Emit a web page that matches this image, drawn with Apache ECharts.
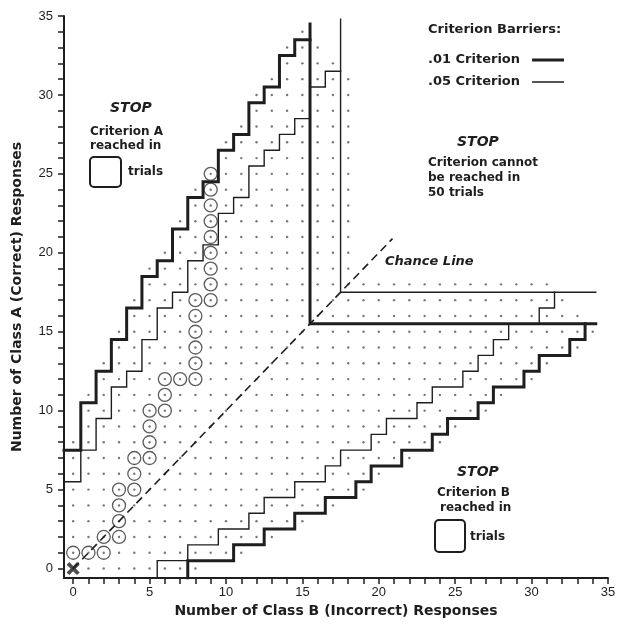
<!DOCTYPE html>
<html>
<head>
<meta charset="utf-8">
<script src="https://cdn.jsdelivr.net/npm/echarts@6/dist/echarts.min.js"></script>
<style>
  html, body { margin: 0; padding: 0; background: #fff; }
  #chart { width: 622px; height: 627px; }
</style>
</head>
<body>
<div id="chart"></div>
<script>
// tick positions and labels
const xTickValues = [0, 1, 2, 3, 4, 5, 6, 7, 8, 9, 10, 11, 12, 13, 14, 15, 16, 17, 18, 19, 20, 21, 22, 23, 24, 25, 26, 27, 28, 29, 30, 31, 32, 33, 34, 35]
const xLabelValues = [0, 5, 10, 15, 20, 25, 30, 35]
const yTickValues = [0, 1, 2, 3, 4, 5, 6, 7, 8, 9, 10, 11, 12, 13, 14, 15, 16, 17, 18, 19, 20, 21, 22, 23, 24, 25, 26, 27, 28, 29, 30, 31, 32, 33, 34, 35]
const yLabelValues = [0, 5, 10, 15, 20, 25, 30, 35]

// criterion A barrier: boundary height for each column 0,1,2,...
const aThickSteps = [7.5, 10.5, 12.5, 14.5, 16.5, 18.5, 19.5, 21.5, 23.5, 24.5, 26.5, 27.5, 29.5, 30.5, 32.5, 33.5]
const aThinSteps = [5.5, 7.5, 9.5, 11.5, 12.5, 14.5, 16.5, 17.5, 19.5, 20.5, 22.5, 23.5, 25.5, 26.5, 27.5, 28.5, 30.5, 31.5]
// criterion B barrier: boundary x for each row 0,1,2,...
const bThickSteps = [7.5, 10.5, 12.5, 14.5, 16.5, 18.5, 19.5, 21.5, 23.5, 24.5, 26.5, 27.5, 29.5, 30.5, 32.5, 33.5]
const bThinSteps = [5.5, 7.5, 9.5, 11.5, 12.5, 14.5, 16.5, 17.5, 19.5, 20.5, 22.5, 23.5, 25.5, 26.5, 27.5, 28.5, 30.5, 31.5]
// "cannot be reached" corners
const cornerThick = [[15.5, 34.5], [15.5, 15.5], [34.2, 15.5]]
const cornerThin = [[17.5, 34.8], [17.5, 17.5], [34.2, 17.5]]

const chanceLine = [[0, 0], [20.9, 20.9]]

// grid dots: lowest and highest dotted row for each column 0..34
const dotColLow = [0, 0, 0, 0, 0, 0, 0, 0, 0, 1, 1, 1, 2, 2, 3, 3, 4, 4, 5, 5, 6, 7, 7, 8, 8, 9, 10, 10, 11, 12, 12, 13, 14, 14, 15]
const dotColHigh = [8, 11, 13, 15, 17, 19, 20, 22, 24, 25, 27, 28, 30, 31, 33, 34, 33, 32, 31, 18, 18, 18, 18, 18, 18, 18, 18, 18, 18, 18, 18, 18, 17, 16, 15]

// sample sequence (circled trials)
const pathB = [0, 1, 2, 2, 3, 3, 3, 3, 4, 4, 4, 5, 5, 5, 5, 6, 6, 6, 7, 8, 8, 8, 8, 8, 8, 9, 9, 9, 9, 9, 9, 9, 9, 9]
const pathA = [1, 1, 1, 2, 2, 3, 4, 5, 5, 6, 7, 7, 8, 9, 10, 10, 11, 12, 12, 12, 13, 14, 15, 16, 17, 17, 18, 19, 20, 21, 22, 23, 24, 25]
const startPoint = [[0, 0]]

const axisMin = -0.6
const ink = '#1e1e1e'
const boldFont = 'DejaVu Sans'

// staircase helpers
function stairsA(steps) {
  const pts = [[axisMin, steps[0]]]
  steps.forEach((s, i) => {
    if (i > 0) pts.push([i - 0.5, s])
    pts.push([i + 0.5, s])
  })
  return pts
}
function stairsB(steps) {
  const pts = [[steps[0], axisMin]]
  steps.forEach((s, i) => {
    if (i > 0) pts.push([s, i - 0.5])
    pts.push([s, i + 0.5])
  })
  return pts
}

const dots = []
dotColLow.forEach((lo, col) => {
  for (let r = lo; r <= dotColHigh[col]; r++) dots.push([col, r])
})
const circles = pathB.map((b, i) => [b, pathA[i]])

const chart = echarts.init(document.getElementById('chart'))

function barrier(name, data, width) {
  return {
    name: name,
    type: 'line',
    data: data,
    symbol: 'none',
    silent: true,
    z: 4,
    itemStyle: { color: ink },
    lineStyle: { color: ink, width: width, cap: 'square', join: 'miter' }
  }
}

function txt(text, x, y, size, style) {
  return {
    type: 'text',
    x: x,
    y: y,
    silent: true,
    style: {
      text: text,
      fill: ink,
      font: (style || 'bold') + ' ' + size + 'px "' + boldFont + '"',
      verticalAlign: 'middle'
    }
  }
}

function box(x, y, w, h) {
  return {
    type: 'rect',
    silent: true,
    shape: { x: x, y: y, width: w, height: h, r: 4 },
    style: { fill: 'none', stroke: ink, lineWidth: 2 }
  }
}

// legend line samples: tiny corner marks keep the 32x14 box, bar in the middle
const thickIcon = 'path://M0,0L0.01,0L0,0.01Z M0,5.5L32,5.5L32,8.5L0,8.5Z M32,14L31.99,14L32,13.99Z'
const thinIcon = 'path://M0,0L0.01,0L0,0.01Z M0,6.3L32,6.3L32,7.7L0,7.7Z M32,14L31.99,14L32,13.99Z'

const option = {
  animation: false,
  backgroundColor: '#fff',
  grid: { left: 64, right: 14, top: 16, bottom: 49 },
  legend: {
    data: [
      { name: '.01 Criterion', icon: thickIcon, itemStyle: { color: ink } },
      { name: '.05 Criterion', icon: thinIcon, itemStyle: { color: ink } }
    ],
    orient: 'vertical',
    left: 428,
    top: 53,
    padding: 0,
    align: 'right',
    itemWidth: 32,
    itemHeight: 14,
    itemGap: 8,
    selectedMode: false,
    textStyle: { fontFamily: boldFont, fontWeight: 'bold', fontSize: 13, color: ink, padding: [0, 7, 0, 0] }
  },
  xAxis: {
    type: 'value',
    min: axisMin,
    max: 35,
    name: 'Number of Class B (Incorrect) Responses',
    nameLocation: 'middle',
    nameGap: 25,
    nameTextStyle: { fontFamily: boldFont, fontWeight: 'bold', fontSize: 14, color: ink },
    axisLine: { show: true, onZero: false, lineStyle: { color: ink, width: 2 } },
    axisTick: { show: true, customValues: xTickValues, length: 6, lineStyle: { color: ink, width: 1.5 } },
    axisLabel: { customValues: xLabelValues, margin: 8, fontSize: 13, color: ink, fontFamily: 'Liberation Sans' },
    splitLine: { show: false }
  },
  yAxis: {
    type: 'value',
    min: axisMin,
    max: 35,
    name: 'Number of Class A (Correct) Responses',
    nameLocation: 'middle',
    nameGap: 40,
    nameTextStyle: { fontFamily: boldFont, fontWeight: 'bold', fontSize: 14, color: ink },
    axisLine: { show: true, onZero: false, lineStyle: { color: ink, width: 2 } },
    axisTick: { show: true, customValues: yTickValues, length: 6, lineStyle: { color: ink, width: 1.5 } },
    axisLabel: { customValues: yLabelValues, margin: 11, fontSize: 13, color: ink, fontFamily: 'Liberation Sans' },
    splitLine: { show: false }
  },
  series: [
    {
      name: 'dots',
      type: 'scatter',
      data: dots,
      symbol: 'circle',
      symbolSize: 2.4,
      silent: true,
      z: 1,
      itemStyle: { color: '#555' }
    },
    {
      name: 'Chance Line',
      type: 'line',
      data: chanceLine,
      symbol: 'none',
      silent: true,
      z: 2,
      lineStyle: { color: ink, width: 1.6, type: [8, 5] }
    },
    barrier('.01 Criterion', stairsA(aThickSteps), 3),
    barrier('.01 Criterion', stairsB(bThickSteps), 3),
    barrier('.01 Criterion', cornerThick, 3),
    barrier('.05 Criterion', stairsA(aThinSteps), 1.4),
    barrier('.05 Criterion', stairsB(bThinSteps), 1.4),
    barrier('.05 Criterion', cornerThin, 1.4),
    {
      name: 'trials',
      type: 'scatter',
      data: circles,
      symbol: 'circle',
      symbolSize: 13,
      silent: true,
      z: 5,
      itemStyle: { color: 'rgba(0,0,0,0)', borderColor: '#333', borderWidth: 1.3 }
    },
    {
      name: 'start',
      type: 'scatter',
      data: startPoint,
      symbol: 'path://M0,2L2,0L5,3L8,0L10,2L7,5L10,8L8,10L5,7L2,10L0,8L3,5Z',
      symbolSize: 13,
      silent: true,
      z: 6,
      itemStyle: { color: ink }
    }
  ],
  graphic: [
    txt('STOP', 110, 108, 14, 'italic bold'),
    txt('Criterion A', 90, 132, 12),
    txt('reached in', 90, 146, 12),
    box(90, 157, 31, 30),
    txt('trials', 128, 172, 12),

    txt('Criterion Barriers:', 428, 30, 13),
    txt('STOP', 457, 142, 14, 'italic bold'),
    txt('Criterion cannot', 428, 163, 12),
    txt('be reached in', 428, 178, 12),
    txt('50 trials', 428, 193, 12),
    txt('Chance Line', 385, 262, 13, 'italic bold'),

    txt('STOP', 457, 472, 14, 'italic bold'),
    txt('Criterion B', 437, 493, 12),
    txt('reached in', 440, 508, 12),
    box(435, 520, 30, 32),
    txt('trials', 470, 537, 12)
  ]
}

chart.setOption(option)
</script>
</body>
</html>
